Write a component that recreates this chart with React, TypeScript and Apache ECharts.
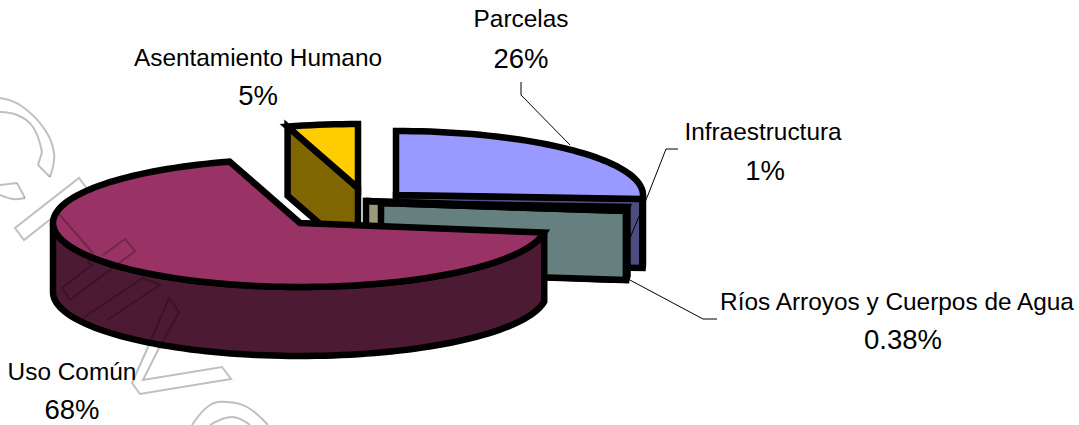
import React, { useEffect, useRef } from "react";
import * as echarts from "echarts";

const names = ["Parcelas", "Infraestructura", "Ríos Arroyos y Cuerpos de Agua", "Uso Común", "Asentamiento Humano"];
const values = [26, 1, 0.38, 68, 4.6];
const percentLabels = ["26%", "1%", "0.38%", "68%", "5%"];
const topColors = ["#9999ff", "#ccffff", "#ffffcc", "#993366", "#ffcc00"];
const wallColors = ["#4d4d80", "#668080", "#999980", "#4d1a33", "#806600"];

// Exploded slice centres, pixel layout of the tilted pie
const centres = [[396, 195], [381, 203], [366, 201], [300, 223], [358, 188]];
const paintOrder = [1, 4, 3, 5, 2];
const RX = 247;
const RY = 64;
const DEPTH = 69;
const BORDER = 6.5;

const namePositions = [[521, 18], [763, 131], [897, 301], [72, 371], [258, 57]];
const percentPositions = [[521, 58], [765, 170], [903, 339], [72, 409], [258, 95]];

const leaderLines = [
  [[521, 82], [521, 95], [570, 145]],
  [[678, 149], [666, 149], [648, 195], [630, 238]],
  [[628, 279], [703, 319], [717, 319]],
];

const watermarkStraight = [
  [[50, 177], [38, 165], [42, 152]],
  [[17, 183], [25, 198]],
  [[52, 218], [24, 240], [15, 228], [79, 178], [88, 190]],
  [[58, 213], [93, 253], [88, 262], [92, 265], [62, 288], [70, 300], [135, 251], [125, 239], [103, 255]],
  [[83, 318], [143, 278], [160, 285], [107, 320]],
  [[148, 347], [169, 298], [179, 312], [158, 350], [143, 380], [222, 367], [231, 379], [140, 394], [132, 383], [148, 347]],
];
const watermarkCurved = [
  [[0, 98], [20, 105], [43, 127], [54, 153], [50, 177]],
  [[42, 152], [33, 127], [17, 115], [0, 112]],
  [[0, 185], [17, 183]],
  [[25, 198], [13, 199], [0, 195]],
  [[192, 425], [210, 405], [227, 402], [247, 407], [268, 425]],
  [[210, 425], [232, 417], [250, 425]],
];

const total = values.reduce((a, b) => a + b, 0);
const rad = (d: number) => (d * Math.PI) / 180;

function rimPoint(c: number[], deg: number, dy = 0): number[] {
  return [c[0] + RX * Math.sin(rad(deg)), c[1] - RY * Math.cos(rad(deg)) + dy];
}

function arc(c: number[], from: number, to: number, dy = 0): number[][] {
  const pts: number[][] = [];
  const steps = Math.max(2, Math.ceil(Math.abs(to - from) / 2));
  for (let i = 0; i <= steps; i++) pts.push(rimPoint(c, from + ((to - from) * i) / steps, dy));
  return pts;
}

function renderSlice(params: any, api: any) {
  const i = params.dataIndex;
  const before = values.slice(0, i).reduce((a, b) => a + b, 0);
  const start = (before / total) * 360;
  const end = start + (api.value(0) / total) * 360;
  const c = centres[i];
  const bottom = [c[0], c[1] + DEPTH];
  const z2 = paintOrder[i] * 10;
  const common = { lineWidth: BORDER, stroke: "#000", lineJoin: "miter", miterLimit: 4 };
  const children: any[] = [];

  const wall = (points: number[][], k: number, miterLimit = 4) =>
    children.push({
      type: "polygon",
      z2: z2 + k,
      shape: { points },
      style: { ...common, miterLimit, fill: wallColors[i] },
    });

  if (Math.sin(rad(start)) < -1e-6) {
    const r = rimPoint(c, start);
    wall([c, r, [r[0], r[1] + DEPTH], bottom], 1);
  }
  if (Math.sin(rad(end)) > 1e-6) {
    const r = rimPoint(c, end);
    wall([c, r, [r[0], r[1] + DEPTH], bottom], 1);
  }
  const a = Math.max(start, 90);
  const b = Math.min(end, 270);
  if (b > a) {
    wall([...arc(c, a, b), ...arc(c, b, a, DEPTH)], 2, 1.5);
  }
  children.push({
    type: "polygon",
    z2: z2 + 3,
    shape: { points: [c, ...arc(c, start, end)] },
    style: { ...common, fill: topColors[i] },
  });
  return { type: "group", children };
}

const textStyle = (text: string, pos: number[], fontSize: number) => ({
  type: "text",
  z: 20,
  x: pos[0],
  y: pos[1],
  style: {
    text,
    fontSize,
    fontFamily: '"Liberation Sans", Arial, sans-serif',
    fill: "#000",
    align: "center",
    verticalAlign: "middle",
    textAlign: "center",
    textVerticalAlign: "middle",
  },
});

const markLine = (points: number[][], smooth: number) => ({
  type: "polyline",
  z: 10,
  shape: { points, smooth },
  style: { stroke: "rgba(0,0,0,0.25)", lineWidth: 2, fill: "none" },
});

export default function App() {
  const ref = useRef<HTMLDivElement>(null);
  useEffect(() => {
    document.body.style.margin = "0";
    const chart = echarts.init(ref.current!, null, { renderer: "svg" });
    chart.setOption({
      animation: false,
      backgroundColor: "#fff",
      series: [
        {
          type: "custom",
          coordinateSystem: "none",
          silent: true,
          data: values.map((v, i) => ({ name: names[i], value: [v] })),
          renderItem: renderSlice,
        },
      ],
      graphic: {
        elements: [
          ...leaderLines.map((points) => ({
            type: "polyline",
            z: 15,
            shape: { points },
            style: { stroke: "#000", lineWidth: 1, fill: "none" },
          })),
          ...watermarkStraight.map((points) => markLine(points, 0)),
          ...watermarkCurved.map((points) => markLine(points, 0.4)),
          ...names.map((n, i) => textStyle(n, namePositions[i], 24.4)),
          ...percentLabels.map((p, i) => textStyle(p, percentPositions[i], 27.5)),
        ],
      },
    });
    return () => chart.dispose();
  }, []);
  return <div ref={ref} style={{ width: 1079, height: 425, overflow: "hidden" }} />;
}
